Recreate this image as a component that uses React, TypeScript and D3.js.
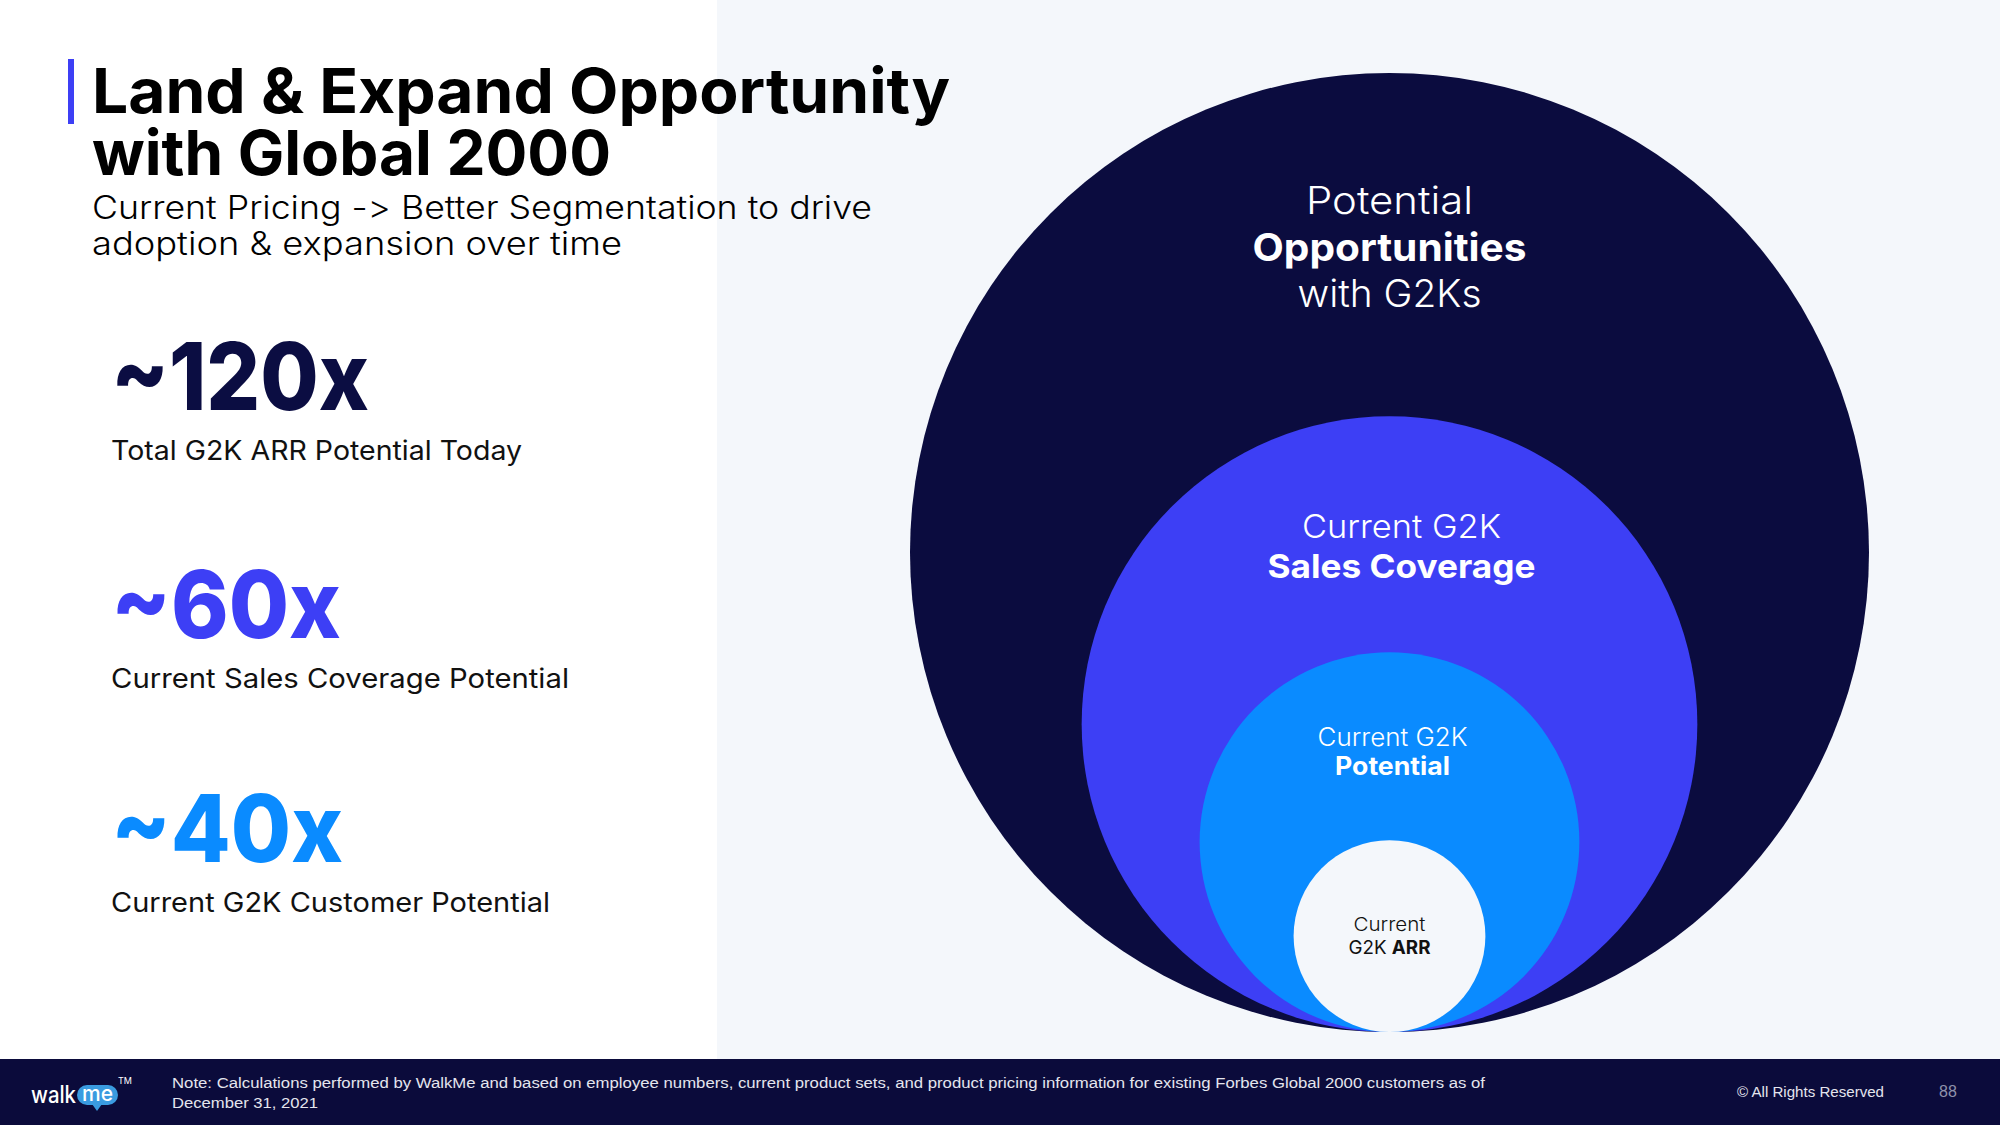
import React from 'react';
import * as d3 from 'd3';

// nested circles, outermost first (relative radius)
const circleNames = ['Potential Opportunities', 'Sales Coverage', 'G2K Potential', 'G2K ARR'];
const circleSizes = [1, 0.642, 0.396, 0.2];
const circleColors = ['#0b0c3f', '#3d3ff5', '#0a8bff', '#f4f7fb'];

// label lines per circle: [text, bold]
const circleLabels = [
  [['Potential', false], ['Opportunities', true], ['with G2Ks', false]],
  [['Current G2K', false], ['Sales Coverage', true]],
  [['Current G2K', false], ['Potential', true]],
  [['Current', false], ['G2K |ARR', false]],
];

const statValues = ['~120x', '~60x', '~40x'];
const statLabels = ['Total G2K ARR Potential Today', 'Current Sales Coverage Potential', 'Current G2K Customer Potential'];
const statColors = ['#0b0d42', '#3d3ff5', '#0a8bff'];

const titleLines = ['Land & Expand Opportunity', 'with Global 2000'];
const subtitleLines = ['Current Pricing -> Better Segmentation to drive', 'adoption & expansion over time'];
const noteLines = [
  'Note: Calculations performed by WalkMe and based on employee numbers, current product sets, and product pricing information for existing Forbes Global 2000 customers as of',
  'December 31, 2021',
];

const W = 2000;
const H = 1125;
const FONT = 'Inter, "Open Sans", sans-serif';
const NOCALT = { fontFeatureSettings: '"calt" 0, "liga" 0', fontVariantLigatures: 'none' } as React.CSSProperties;

// label layout (offset from circle top, font size, line step, widths, dx)
const labelLayout = [
  { top: 141, size: 38, step: 46.5, widths: [167, 274, 184], dx: 0, fill: '#ffffff' },
  { top: 122, size: 33, step: 40, widths: [199, 268], dx: 12, fill: '#ffffff' },
  { top: 94, size: 25, step: 29, widths: [150, 115], dx: 3, fill: '#ffffff' },
  { top: 91, size: 19, step: 23, widths: [72, 82], dx: 0, fill: '#111111' },
];
const statLayout = [
  { base: 410, vw: 258, lw: 411 },
  { base: 638, vw: 230, lw: 458 },
  { base: 862, vw: 232, lw: 439 },
];

export default function App() {
  const cx = 1389.5;
  const bottom = 1032;
  const r = d3.scaleLinear().domain([0, 1]).range([0, 479.5]);

  return (
    <svg width={W} height={H} style={{ position: 'absolute', left: 0, top: 0, display: 'block' }} fontFamily={FONT}>
      <rect x={0} y={0} width={W} height={H} fill="#ffffff" />
      <rect x={717} y={0} width={W - 717} height={1059} fill="#f4f7fb" />

      {/* circles */}
      {circleSizes.map((s, i) => (
        <circle key={circleNames[i]} cx={cx} cy={bottom - r(s)} r={r(s)} fill={circleColors[i]} />
      ))}

      {circleLabels.map((lines, i) => {
        const L = labelLayout[i];
        const top = bottom - 2 * r(circleSizes[i]);
        return lines.map(([t, bold], j) => {
          const y = top + L.top + j * L.step;
          const txt = t as string;
          if (txt.includes('|')) {
            const [a, b] = txt.split('|');
            return (
              <text key={`${i}-${j}`} x={cx + L.dx} y={y} textAnchor="middle" fontSize={L.size} fill={L.fill}
                textLength={L.widths[j]} lengthAdjust="spacingAndGlyphs">
                <tspan fontWeight={400}>{a}</tspan>
                <tspan fontWeight={700}>{b}</tspan>
              </text>
            );
          }
          return (
            <text key={`${i}-${j}`} x={cx + L.dx} y={y} textAnchor="middle" fontSize={L.size}
              fontWeight={bold ? 700 : 300} fill={L.fill}
              textLength={L.widths[j]} lengthAdjust="spacingAndGlyphs">{txt}</text>
          );
        });
      })}

      {/* title (one text block, two lines) */}
      <rect x={68} y={59} width={6} height={65} fill="#3d3ff5" />
      <text fontSize={62} fontWeight={700} fill="#000">
        <tspan x={92} y={113} textLength={858} lengthAdjust="spacingAndGlyphs">{titleLines[0]}</tspan>
        <tspan x={92} y={175} textLength={519} lengthAdjust="spacingAndGlyphs">{titleLines[1]}</tspan>
      </text>
      <text fontSize={32} fontWeight={300} fill="#000" style={NOCALT}>
        <tspan x={92} y={219} textLength={780} lengthAdjust="spacingAndGlyphs">{subtitleLines[0]}</tspan>
        <tspan x={92} y={255} textLength={530} lengthAdjust="spacingAndGlyphs">{subtitleLines[1]}</tspan>
      </text>

      {/* stats */}
      {statValues.map((v, i) => (
        <g key={v}>
          <text x={111} y={statLayout[i].base} fontSize={94} fontWeight={800} fill={statColors[i]}
            textLength={statLayout[i].vw} lengthAdjust="spacingAndGlyphs">{v}</text>
          <text x={111} y={statLayout[i].base + 50} fontSize={27} fontWeight={400} fill="#111"
            textLength={statLayout[i].lw} lengthAdjust="spacingAndGlyphs">{statLabels[i]}</text>
        </g>
      ))}

      {/* footer */}
      <rect x={0} y={1059} width={W} height={H - 1059} fill="#0b0b3b" />
      <text x={31} y={1103} fontSize={24} fontWeight={500} fill="#fff" textLength={45} lengthAdjust="spacingAndGlyphs">walk</text>
      <rect x={77} y={1085} width={41} height={20} rx={10} fill="#3a9be0" />
      <path d="M92,1104 L97,1111 L102,1104 Z" fill="#3a9be0" />
      <text x={97.5} y={1101} textAnchor="middle" fontSize={21} fontWeight={500} fill="#fff">me</text>
      <text x={118} y={1084} fontSize={9} fill="#fff">TM</text>
      <text fontSize={14} fill="#e4e5ee" fontFamily='"Liberation Sans", Arial, sans-serif'>
        <tspan x={172} y={1088} textLength={1313} lengthAdjust="spacingAndGlyphs">{noteLines[0]}</tspan>
        <tspan x={172} y={1108} textLength={146} lengthAdjust="spacingAndGlyphs">{noteLines[1]}</tspan>
      </text>
      <text x={1737} y={1097} fontSize={14} fill="#e4e5ee" fontFamily='"Liberation Sans", Arial, sans-serif'
        textLength={147} lengthAdjust="spacingAndGlyphs">© All Rights Reserved</text>
      <text x={1939} y={1097} fontSize={16} fill="#8f92ab" fontFamily='"Liberation Sans", Arial, sans-serif'>88</text>
    </svg>
  );
}
